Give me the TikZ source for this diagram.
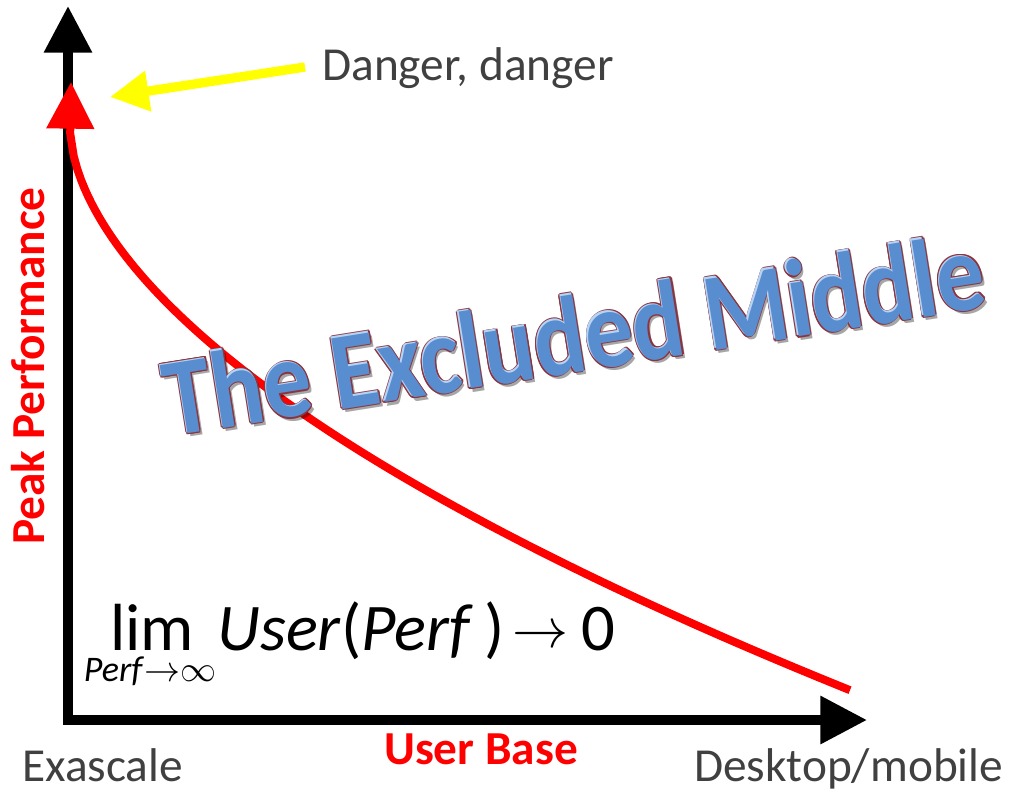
\RequirePackage{fix-cm}
\documentclass[tikz,border=0pt]{standalone}
\usepackage{fontspec}
\setmainfont{Carlito}
\usetikzlibrary{arrows.meta}

\definecolor{labelgray}{RGB}{64,64,64}
\definecolor{titleblue}{RGB}{88,141,208}
\definecolor{titlelight}{RGB}{182,211,244}
\definecolor{titleedge}{RGB}{140,52,62}
\definecolor{curvered}{RGB}{255,0,0}
\definecolor{pointeryellow}{RGB}{255,255,0}

\newcommand\excludedtitle{\scalebox{1}[1.15]{The Excluded Middle}}

\begin{document}
\begin{tikzpicture}[
  x=0.75pt, y=-0.75pt,
  axisline/.style={line width=7.2pt, line join=miter, {Triangle[length=35pt,width=34.5pt]}-{Triangle[length=35pt,width=34.5pt]}},
  curveline/.style={curvered, line width=6pt, {Triangle[length=35pt,width=34.5pt]}-},
  pointer/.style={pointeryellow, line width=7pt, -{Triangle[length=29pt,width=29pt]}},
  graylabel/.style={text=labelgray, inner sep=0pt, font=\fontsize{35.5}{40}\selectfont},
  redlabel/.style={text=curvered, inner sep=0pt, font=\fontsize{35.5}{40}\selectfont\bfseries},
  formula/.style={inner sep=0pt, anchor=base west, font=\fontsize{50}{58}\selectfont},
  wordart/.style={inner sep=0pt, anchor=base west, rotate=9, font=\fontsize{72}{80}\selectfont\bfseries}
]
\useasboundingbox (0,0) rectangle (1009,789);

% axes
\coordinate (ytip) at (68,6);
\coordinate (origin) at (68,720);
\coordinate (xtip) at (867,720);
\draw[axisline] (ytip) -- (origin) -- (xtip);

% falling curve of users against performance: y = 128 + 13.5 (x-70)^0.56
\coordinate (ctip) at (71,82);
\draw[curveline] (ctip) -- plot[domain=0.2:780, samples=220]
  ({70+\x}, {128+13.5*(\x)^0.56});

% warning pointer
\coordinate (ptail) at (305,67);
\coordinate (phead) at (110,97);
\draw[pointer] (ptail) -- (phead);
\node[graylabel, anchor=base west] (danger) at (322,80) {Danger, danger};

% slanted title with a bevelled look
\coordinate (tb) at (170,436);
\node[wordart, text=black, opacity=0.35] (tshadow) at ([shift={(3,4)}]tb) {\excludedtitle};
\foreach \dx/\dy [count=\k] in {-1.6/0, 1.6/0, 0/-1.6, 0/1.6, -1.1/-1.1, 1.1/-1.1, -1.1/1.1, 1.1/1.1}
  \node[wordart, text=titleedge] (tedge\k) at ([shift={(\dx,\dy)}]tb) {\excludedtitle};
\node[wordart, text=titlelight] (thigh) at ([shift={(-0.8,-0.8)}]tb) {\excludedtitle};
\node[wordart, text=titleblue] (tface) at ([shift={(0.5,0.5)}]tb) {\excludedtitle};

% axis labels
\node[redlabel, anchor=base, rotate=90] (ylabel) at (44,366) {Peak Performance};
\node[redlabel, anchor=base] (xlabel) at (481,764) {User Base};
\node[graylabel, anchor=base west] (left) at (22,781) {Exascale};
\node[graylabel, anchor=base west] (right) at (694,781) {Desktop/mobile};

% limit formula
\node[formula] (lim) at (110,650) {lim};
\node[formula] (expr) at (217,650)
  {\textit{User}(\textit{Perf}\,)\hspace{6pt}\raisebox{2pt}{\fontsize{42}{42}\selectfont$\rightarrow$}\hspace{10pt}0};
\node[inner sep=0pt, anchor=base, font=\fontsize{27}{30}\selectfont] (sub) at (150,681)
  {\textit{Perf}$\mathord{\rightarrow}\infty$};
\end{tikzpicture}
\end{document}
